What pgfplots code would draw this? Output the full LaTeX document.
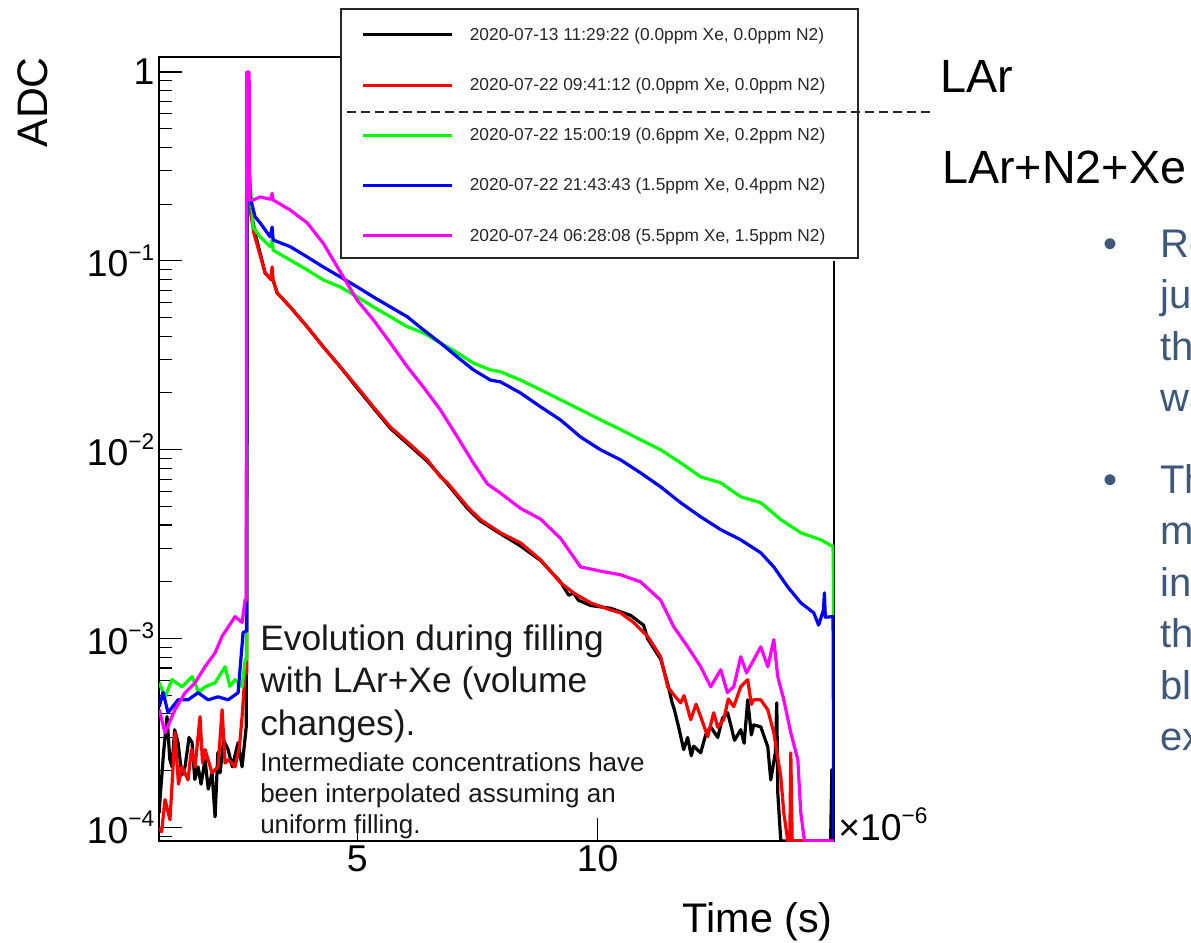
\documentclass[border=0pt]{standalone}
\usepackage{fontspec}
\setmainfont{Liberation Sans}
\usepackage{pgfplots}
\pgfplotsset{compat=1.18}
\definecolor{slate}{RGB}{62,88,122}
\definecolor{rBlack}{RGB}{0,0,0}
\definecolor{rRed}{RGB}{255,0,0}
\definecolor{rGreen}{RGB}{0,255,0}
\definecolor{rBlue}{RGB}{0,0,255}
\definecolor{rMag}{RGB}{255,0,255}
\newcommand{\tenp}[1]{10\raisebox{0.45em}{\fontsize{17}{17}\selectfont #1}}
\begin{document}
\begin{tikzpicture}
\useasboundingbox (0pt,0pt) rectangle (893.25pt,-706.5pt);
\begin{axis}[
  at={(119.25pt,-630.75pt)}, anchor=south west,
  scale only axis, width=506.25pt, height=588pt,
  ymode=log, xmin=0.875, xmax=14.92, ymin=8.5e-5, ymax=1.2,
  /pgf/number format/assume math mode=true,
  scaled ticks=false,
  xtick={5,10}, xticklabels={5,10},
  ytick={1e-4,1e-3,1e-2,1e-1,1},
  yticklabels={\tenp{−4},\tenp{−3},\tenp{−2},\tenp{−1},1},
  minor ytick={9e-5,2e-4,3e-4,4e-4,5e-4,6e-4,7e-4,8e-4,9e-4,2e-3,3e-3,4e-3,5e-3,6e-3,7e-3,8e-3,9e-3,2e-2,3e-2,4e-2,5e-2,6e-2,7e-2,8e-2,9e-2,0.2,0.3,0.4,0.5,0.6,0.7,0.8,0.9},
  tick align=inside, ytick pos=left, xtick pos=bottom,
  major tick length=17pt, minor tick length=9.75pt,
  tick style={black, line width=0.8pt},
  axis line style={black, line width=0.8pt},
  tick label style={font=\fontsize{28}{30}\selectfont},
  every axis plot/.append style={line width=2.4pt, line join=round, no markers},
  legend style={at={(axis description cs:0.2696,1.0612)}, anchor=north west,
    draw=none, fill=white,
    font=\fontsize{13}{15}\selectfont, text=black!85,
    inner xsep=15.5pt, inner ysep=11.65pt, row sep=22.8pt,
    /tikz/every odd column/.append style={column sep=10pt}},
  legend cell align=left,
  legend image code/.code={\draw[#1,line width=2.2pt] (0pt,0pt) -- (66.75pt,0pt);},
]
\addplot[rBlack] coordinates {
(0.88,0.00012) (0.896,0.000141) (0.97,0.00025) (1.042,0.000387) (1.1,0.00023) (1.146,0.00021) (1.2,0.00033) (1.271,0.000282) (1.35,0.00019) (1.417,0.00021) (1.5,0.0003) (1.563,0.000282) (1.62,0.00018) (1.688,0.00021) (1.75,0.00017) (1.833,0.000229) (1.9,0.00016) (1.979,0.000195) (2.042,0.000114) (2.1,0.00025) (2.146,0.000195) (2.22,0.00029) (2.313,0.000259) (2.4,0.00021) (2.521,0.000282) (2.604,0.00021) (2.69,0.000342) (2.71,0.2) (2.75,0.2) (2.771,0.193) (2.875,0.14) (3.083,0.0864) (3.2,0.08) (3.25,0.079) (3.333,0.0677) (3.604,0.0571) (3.958,0.0448) (4.292,0.0351) (4.646,0.0275) (5.0,0.0212) (5.333,0.0167) (5.688,0.013) (6.042,0.0108) (6.458,0.0087) (6.875,0.0066) (7.292,0.0049) (7.563,0.0042) (7.979,0.0036) (8.396,0.0031) (8.813,0.0026) (9.229,0.0020) (9.4,0.0017) (9.5,0.00175) (9.6,0.0016) (9.854,0.0015) (10.271,0.00145) (10.688,0.00133) (10.958,0.00118) (11.042,0.001) (11.313,0.00078) (11.458,0.00058) (11.55,0.00046) (11.6,0.00042) (11.7,0.00033) (11.792,0.000259) (11.875,0.0003) (11.95,0.00024) (12.0,0.00027) (12.146,0.000249) (12.25,0.00031) (12.354,0.000342) (12.5,0.0003) (12.6,0.00038) (12.708,0.000406) (12.85,0.00029) (12.979,0.00033) (13.05,0.00028) (13.125,0.000475) (13.2,0.00031) (13.25,0.00035) (13.396,0.000342) (13.542,0.000268) (13.604,0.000179) (13.7,0.00025) (13.729,0.000458) (13.75,0.000153) (13.813,0.000085) (14.85,0.000085) (14.875,0.000203) (14.9,0.000085) (14.917,0.000085)
};
\addlegendentry{2020-07-13 11:29:22 (0.0ppm Xe, 0.0ppm N2)}
\addplot[rRed] coordinates {
(0.88,0.0001) (0.93,0.000095) (1.0,0.000141) (1.104,0.00011) (1.208,0.000318) (1.28,0.00017) (1.354,0.00021) (1.479,0.000179) (1.55,0.00026) (1.625,0.00021) (1.729,0.000387) (1.78,0.00022) (1.833,0.000259) (1.979,0.000195) (2.104,0.00021) (2.188,0.000421) (2.25,0.00022) (2.313,0.000229) (2.458,0.00021) (2.55,0.00027) (2.604,0.000387) (2.667,0.000661) (2.7,0.00066) (2.71,0.41) (2.74,0.41) (2.771,0.186) (2.85,0.14) (3.083,0.0864) (3.2,0.08) (3.229,0.0929) (3.25,0.0793) (3.333,0.0677) (3.604,0.0571) (3.958,0.0448) (4.292,0.0351) (4.646,0.0275) (5.0,0.0215) (5.333,0.0169) (5.688,0.0132) (6.042,0.011) (6.458,0.00885) (6.729,0.00719) (6.875,0.00669) (7.292,0.005) (7.563,0.00427) (7.979,0.00364) (8.396,0.00322) (8.813,0.00262) (9.229,0.00198) (9.5,0.00175) (9.854,0.00155) (10.271,0.00142) (10.479,0.00137) (10.75,0.00122) (11.042,0.00103) (11.313,0.000803) (11.458,0.000557) (11.6,0.0005) (11.729,0.000458) (11.8,0.0005) (11.938,0.000373) (12.05,0.00045) (12.146,0.000387) (12.292,0.000303) (12.417,0.000406) (12.5,0.00034) (12.625,0.000373) (12.72,0.00048) (12.833,0.000437) (12.979,0.000557) (13.125,0.000607) (13.2,0.00045) (13.25,0.000475) (13.396,0.000475) (13.542,0.000421) (13.667,0.000318) (13.813,0.000186) (13.875,0.00012) (13.958,0.000085) (14.0,0.000085) (14.021,0.000249) (14.05,0.000085) (14.917,0.000085)
};
\addlegendentry{2020-07-22 09:41:12 (0.0ppm Xe, 0.0ppm N2)}
\addplot[rGreen] coordinates {
(0.88,0.000585) (1.0,0.000493) (1.146,0.000607) (1.354,0.000557) (1.563,0.00063) (1.7,0.00052) (1.833,0.000557) (2.042,0.000585) (2.25,0.000711) (2.35,0.00056) (2.458,0.000607) (2.604,0.000557) (2.667,0.000774) (2.7,0.00078) (2.71,0.35) (2.74,0.35) (2.833,0.151) (2.979,0.134) (3.188,0.119) (3.229,0.129) (3.25,0.114) (3.604,0.101) (3.958,0.0896) (4.292,0.0793) (4.646,0.0728) (5.0,0.0645) (5.333,0.0571) (5.688,0.0506) (6.042,0.0448) (6.375,0.0416) (6.729,0.0368) (7.083,0.0326) (7.417,0.0288) (7.771,0.0265) (7.979,0.0259) (8.396,0.0234) (8.813,0.0208) (9.229,0.0184) (9.646,0.0163) (10.063,0.0144) (10.479,0.0128) (10.896,0.0113) (11.313,0.0100) (11.729,0.00853) (12.146,0.00719) (12.563,0.00669) (12.979,0.00564) (13.396,0.00525) (13.813,0.00427) (14.229,0.00364) (14.646,0.00334) (14.9,0.00307) (14.917,0.00131)
};
\addlegendentry{2020-07-22 15:00:19 (0.6ppm Xe, 0.2ppm N2)}
\addplot[rBlue] coordinates {
(0.88,0.000437) (0.96,0.00052) (1.063,0.000406) (1.271,0.000475) (1.479,0.000475) (1.688,0.000518) (1.896,0.000475) (2.104,0.000493) (2.313,0.000475) (2.521,0.000518) (2.625,0.00108) (2.7,0.0011) (2.71,0.37) (2.74,0.37) (2.771,0.218) (2.875,0.171) (2.979,0.159) (3.188,0.134) (3.229,0.151) (3.25,0.129) (3.604,0.119) (3.958,0.105) (4.292,0.0929) (4.646,0.0823) (5.0,0.0728) (5.333,0.0645) (5.688,0.0571) (6.042,0.0506) (6.375,0.0432) (6.729,0.0368) (7.083,0.031) (7.417,0.0265) (7.771,0.0234) (7.979,0.0229) (8.396,0.0200) (8.813,0.0169) (9.229,0.0144) (9.646,0.0117) (10.063,0.0100) (10.479,0.00885) (10.896,0.00755) (11.313,0.00637) (11.729,0.00525) (12.146,0.00442) (12.563,0.00378) (12.979,0.00334) (13.396,0.00285) (13.667,0.0024) (13.958,0.00188) (14.229,0.00155) (14.5,0.00137) (14.6,0.00118) (14.7,0.00142) (14.72,0.00175) (14.74,0.0013) (14.9,0.00131) (14.917,0.000085)
};
\addlegendentry{2020-07-22 21:43:43 (1.5ppm Xe, 0.4ppm N2)}
\addplot[rMag] coordinates {
(0.88,0.000421) (1.0,0.000318) (1.208,0.000421) (1.417,0.000518) (1.625,0.000585) (1.833,0.000711) (2.042,0.000843) (2.188,0.00103) (2.458,0.00131) (2.604,0.00122) (2.667,0.00161) (2.69,0.0016) (2.70,1.0) (2.75,1.0) (2.76,0.21) (2.833,0.21) (2.979,0.218) (3.2,0.212) (3.229,0.228) (3.25,0.21) (3.604,0.186) (3.958,0.159) (4.292,0.124) (4.646,0.0875) (5.0,0.0618) (5.333,0.0488) (5.688,0.0368) (6.042,0.0275) (6.375,0.0215) (6.729,0.0163) (7.083,0.0117) (7.417,0.0085) (7.708,0.0066) (7.979,0.0059) (8.396,0.0049) (8.813,0.0043) (9.229,0.0034) (9.646,0.0024) (10.063,0.00228) (10.479,0.00218) (10.896,0.002) (11.313,0.0016) (11.583,0.00116) (11.875,0.000907) (12.146,0.000711) (12.354,0.000557) (12.563,0.000686) (12.7,0.00052) (12.833,0.000557) (12.979,0.000803) (13.1,0.00066) (13.25,0.000774) (13.396,0.000907) (13.542,0.000711) (13.667,0.000989) (13.75,0.00063) (13.875,0.000475) (14.021,0.000318) (14.167,0.000229) (14.229,0.00012) (14.292,0.00009) (14.31,0.000085) (14.917,0.000085)
};
\addlegendentry{2020-07-24 06:28:08 (5.5ppm Xe, 1.5ppm N2)}
\end{axis}
\begin{scope}[x=0.75pt,y=-0.75pt]
\fill[white] (829,10) rectangle (857,257);
\draw[black!85, line width=0.8pt] (341,9) rectangle (858,258);
\draw[black!85, line width=1.2pt, dash pattern=on 6.75pt off 3.75pt] (347,112) -- (935,112);
\node[rotate=90, anchor=east, inner sep=0pt, font=\fontsize{32}{34}\selectfont] at (33,57) {ADC};
\node[anchor=base east, inner sep=0pt, font=\fontsize{31}{34}\selectfont] at (833,932) {Time (s)};
\node[anchor=base west, inner sep=0pt, font=\fontsize{28}{30}\selectfont] at (838,840) {×\tenp{−6}};
\node[anchor=base west, inner sep=0pt, font=\fontsize{35}{40}\selectfont] at (940,92) {LAr};
\node[anchor=base west, inner sep=0pt, font=\fontsize{35}{40}\selectfont] at (942,183) {LAr+N2+Xe};
\begin{scope}[every node/.style={anchor=base west, inner sep=0pt, font=\fontsize{26.5}{30}\selectfont, text=black!90}]
\node at (260,650) {Evolution during filling};
\node at (260,692) {with LAr+Xe (volume};
\node at (260,735) {changes).};
\end{scope}
\begin{scope}[every node/.style={anchor=base west, inner sep=0pt, font=\fontsize{19.5}{23}\selectfont, text=black!90}]
\node at (260,771) {Intermediate concentrations have};
\node at (260,802) {been interpolated assuming an};
\node at (260,833) {uniform filling.};
\end{scope}
\begin{scope}[every node/.style={anchor=base west, inner sep=0pt, font=\fontsize{30}{36}\selectfont, text=slate}]
\node at (1103,257) {•};
\node at (1160,257) {Re};
\node at (1160,308) {ju};
\node at (1160,360) {th};
\node at (1160,411) {wa};
\node at (1103,493) {•};
\node at (1160,493) {Th};
\node at (1160,544) {m};
\node at (1160,596) {in};
\node at (1160,647) {th};
\node at (1160,699) {bl};
\node at (1160,750) {ex};
\end{scope}
\end{scope}
\end{tikzpicture}
\end{document}
